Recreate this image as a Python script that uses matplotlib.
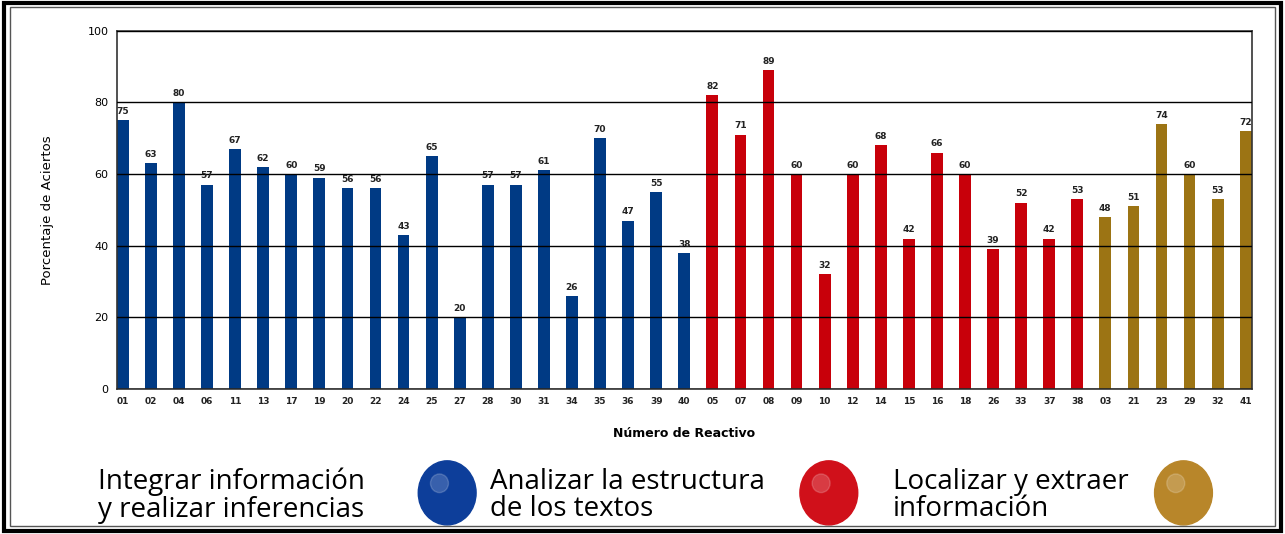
import matplotlib
matplotlib.use("Agg")
import matplotlib.pyplot as plt
from matplotlib.patches import Ellipse, Rectangle

# reactivos por grupo
reactivos_int = ["01", "02", "04", "06", "11", "13", "17", "19", "20", "22", "24",
                 "25", "27", "28", "30", "31", "34", "35", "36", "39", "40"]
aciertos_int = [75, 63, 80, 57, 67, 62, 60, 59, 56, 56, 43,
                65, 20, 57, 57, 61, 26, 70, 47, 55, 38]

reactivos_ana = ["05", "07", "08", "09", "10", "12", "14", "15", "16", "18",
                 "26", "33", "37", "38"]
aciertos_ana = [82, 71, 89, 60, 32, 60, 68, 42, 66, 60, 39, 52, 42, 53]

reactivos_loc = ["03", "21", "23", "29", "32", "41"]
aciertos_loc = [48, 51, 74, 60, 53, 72]

grupos = ["Integrar información\ny realizar inferencias",
          "Analizar la estructura\nde los textos",
          "Localizar y extraer\ninformación"]
colores = ["#003A84", "#C8000A", "#9C7414"]
colores_bola = ["#0D3E9A", "#D0101A", "#B8862A"]

fig = plt.figure(figsize=(12.85, 5.34), dpi=100)
ax = fig.add_axes([0.091, 0.2715, 0.883, 0.671])

series = [(reactivos_int, aciertos_int), (reactivos_ana, aciertos_ana),
          (reactivos_loc, aciertos_loc)]
etiquetas = []
pos = 0
for (reac, vals), col in zip(series, colores):
    xs = list(range(pos, pos + len(vals)))
    ax.bar(xs, vals, width=0.42, color=col, zorder=2)
    for x, v in zip(xs, vals):
        ax.text(x, v + 1.2, str(v), ha="center", va="bottom", fontsize=6.5,
                color="#222222", fontweight="bold", zorder=4)
    etiquetas += reac
    pos += len(vals)

ax.set_xlim(-0.21, pos - 1 + 0.21)
ax.set_ylim(0, 100)
ax.set_yticks(range(0, 101, 20))
ax.set_xticks(range(pos))
ax.set_xticklabels(etiquetas, fontsize=6.5, fontweight="bold", color="#222222")
ax.tick_params(axis="y", labelsize=8, length=0, pad=6)
ax.tick_params(axis="x", length=0, pad=6)
ax.yaxis.grid(True, color="black", linewidth=1.0, zorder=3)
ax.set_axisbelow(False)
for s in ax.spines.values():
    s.set_color("#333333")
    s.set_linewidth(1.2)
ax.set_ylabel("Porcentaje de Aciertos", fontsize=9.5, labelpad=24)
ax.set_xlabel("Número de Reactivo", fontsize=9, fontweight="bold", labelpad=15)

# leyenda con bolas
txt_x = [0.076, 0.381, 0.695]
bola_x = [0.348, 0.645, 0.921]
for tx, bx, g, c in zip(txt_x, bola_x, grupos, colores_bola):
    fig.text(tx, 0.124, g, fontsize=20, family="Open Sans", va="top",
             ha="left", linespacing=0.98)
    fig.patches.append(Ellipse((bx, 0.077), 0.045, 0.12, color=c,
                               transform=fig.transFigure, figure=fig))
    fig.patches.append(Ellipse((bx - 0.006, 0.095), 0.014, 0.035,
                               color="white", alpha=0.18,
                               transform=fig.transFigure, figure=fig))

# marco doble
fig.patches.append(Rectangle((0.003, 0.005), 0.994, 0.99, fill=False,
                             edgecolor="black", linewidth=3,
                             transform=fig.transFigure, figure=fig))
fig.patches.append(Rectangle((0.008, 0.015), 0.984, 0.972, fill=False,
                             edgecolor="#555555", linewidth=1,
                             transform=fig.transFigure, figure=fig))

fig.savefig("out.png", dpi=100)
